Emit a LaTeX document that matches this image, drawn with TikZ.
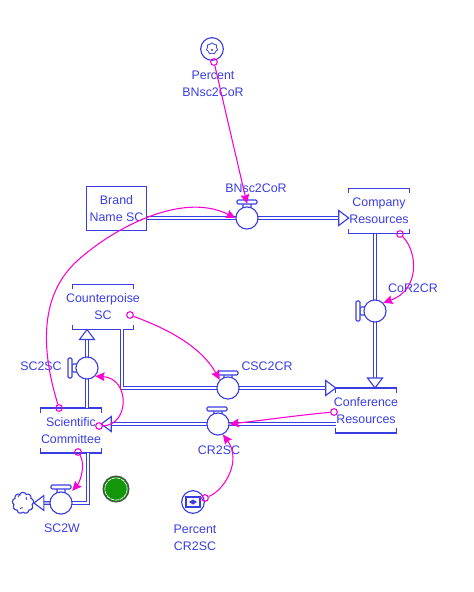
\documentclass[tikz,border=0pt]{standalone}
\usepackage{fontspec}
\setmainfont{Liberation Sans}
\usetikzlibrary{arrows.meta,shapes.symbols,calc}
\definecolor{vblue}{RGB}{58,62,226}
\definecolor{vmag}{RGB}{250,0,210}
\definecolor{vgreen}{RGB}{20,150,10}
\tikzset{
  x=0.75pt,y=-0.75pt,
  lbl/.style={text=vblue,font=\fontsize{9.3}{12.75}\selectfont,align=center,inner sep=0pt},
  stockbox/.style={lbl,minimum width=45pt,minimum height=33.4pt},
  brandbox/.style={stockbox,draw=vblue,line width=0.95pt},
  bracket/.style={draw=vblue,line width=0.95pt},
  valve/.style={circle,draw=vblue,fill=white,line width=0.85pt,minimum size=16.6pt,inner sep=0pt},
  conv/.style={circle,draw=vblue,fill=white,line width=0.85pt,minimum size=17pt,inner sep=0pt},
  flowline/.style={draw=vblue,line width=0.8pt,double=white,double distance=1.1pt},
  handle/.style={draw=vblue,fill=white,line width=0.85pt,rounded corners=0.8pt},
  conn/.style={draw=vmag,line width=0.8pt,-{Stealth[length=7pt,width=6.5pt,inset=1pt]}},
  pin/.style={circle,draw=vmag,line width=0.8pt,fill=none,minimum size=5pt,inner sep=0pt},
  flowhead/.pic={\draw[draw=vblue,fill=white,line width=0.85pt] (0,0)--(-10,-7.5)--(-10,7.5)--cycle;}
}
\begin{document}
\begin{tikzpicture}
\useasboundingbox (0,0) rectangle (474,592);
% stocks
\node[brandbox] (br) at (116.5,208.5) {Brand\\\clap{Name SC}};
\node[stockbox] (co) at (379,211) {\clap{Company}\\\clap{Resources}};
\node[stockbox] (cs) at (103,307) {\clap{Counterpoise}\\\clap{SC}};
\node[stockbox] (sc) at (71,430.5) {\clap{Scientific}\\\clap{Committee}};
\node[stockbox] (cf) at (366,410.5) {\clap{Conference}\\\clap{Resources}};
\foreach \s in {co,cs,sc,cf}{
  \draw[bracket] (\s.north west) ++(0,5) -- (\s.north west) -- (\s.north east) -- ++(0,5);
  \draw[bracket] (\s.south west) ++(0,-5) -- (\s.south west) -- (\s.south east) -- ++(0,-5);
}
% valves positions
\coordinate (vbn) at (247,218);
\coordinate (vco) at (375,311);
\coordinate (vss) at (87,368);
\coordinate (vcs) at (228,388);
\coordinate (vcr) at (218,424);
\coordinate (vsw) at (61,503);
\node[cloud,cloud puffs=9,cloud puff arc=130,aspect=1,draw=vblue,fill=white,line width=0.85pt,minimum width=16pt,minimum height=16pt,inner sep=0pt] (cl) at (23,503) {};
\draw[vblue,line width=0.6pt] (18,497) arc (180:290:2) (27,500) arc (120:220:2) (20,509) arc (200:300:2);
% flows
\draw[flowline] (br.east |- vbn) -- (vbn);
\draw[flowline,shorten >=7pt] (vbn) -- (co.west |- vbn);
\pic at (co.west |- vbn) {flowhead};
\draw[flowline] (vco |- co.south) -- (vco);
\draw[flowline,shorten >=7pt] (vco) -- (vco |- cf.north);
\pic[rotate=-90] at (vco |- cf.north) {flowhead};
\coordinate (csb) at (122,329);
\draw[flowline] (csb) -- (122,388) -- (vcs);
\draw[flowline,shorten >=7pt] (vcs) -- (cf.west |- vcs);
\pic at (cf.west |- vcs) {flowhead};
\draw[flowline] (cf.west |- vcr) -- (vcr);
\draw[flowline,shorten >=7pt] (vcr) -- (sc.east |- vcr);
\pic[rotate=180] at (sc.east |- vcr) {flowhead};
\draw[flowline] (vss |- sc.north) -- (vss);
\draw[flowline,shorten >=7pt] (vss) -- (vss |- cs.south);
\pic[rotate=90] at (vss |- cs.south) {flowhead};
\draw[flowline] (88,453) -- (88,503) -- (vsw);
\draw[flowline,shorten >=6pt] (vsw) -- (cl.east);
\pic[rotate=180] at (cl.east) {flowhead};
% valve handles and circles
\draw[handle] (243,209) rectangle (251,203);
\draw[handle] (237,200) rectangle (257,204);
\draw[handle] (224,379) rectangle (232,373);
\draw[handle] (218,371) rectangle (238,375);
\draw[handle] (214,415) rectangle (222,409);
\draw[handle] (207,407) rectangle (227,411);
\draw[handle] (57,494) rectangle (65,488);
\draw[handle] (51,485) rectangle (71,489);
\draw[handle] (366,307) rectangle (360,315);
\draw[handle] (356,301) rectangle (360,321);
\draw[handle] (78,364) rectangle (72,372);
\draw[handle] (68,358) rectangle (72,378);
\node[valve] (nbn) at (vbn) {};
\node[valve] (nco) at (vco) {};
\node[valve] (nss) at (vss) {};
\node[valve] (ncs) at (vcs) {};
\node[valve] (ncr) at (vcr) {};
\node[valve] (nsw) at (vsw) {};
% converters
\node[conv] (p1) at (212,49) {};
\node[cloud,cloud puffs=7,cloud puff arc=140,aspect=1,draw=vblue,line width=0.6pt,minimum width=8.5pt,minimum height=8.5pt,inner sep=0pt] at (212,48.5) {};
\fill[vblue] (212,50) circle (1.2);
\node[conv] (p2) at (193,502) {};
\draw[vblue,line width=0.8pt] (186,497) rectangle (200,507);
\fill[vblue] (189,502)--(193,499.5)--(197,502)--(193,504.5)--cycle;
% green indicator
\node[circle,draw=black!70,fill=vgreen,line width=0.8pt,minimum size=19.5pt,inner sep=0pt] (gr) at (116,489) {};
\draw[white,line width=0.5pt,dash pattern=on 3pt off 0.6pt] (gr) circle (11.2);
% labels
\node[lbl] (lp1) at (213,84) {Percent\\BNsc2CoR};
\node[lbl] (l1) at (256,188) {BNsc2CoR};
\node[lbl] (l2) at (413,288) {CoR2CR};
\node[lbl] (l3) at (41,366) {SC2SC};
\node[lbl] (l4) at (267,366) {CSC2CR};
\node[lbl] (l5) at (219,450) {CR2SC};
\node[lbl] (l6) at (62,528) {SC2W};
\node[lbl] (lp2) at (195,537.5) {Percent\\CR2SC};
% connectors
\coordinate (s1) at (214,62);
\coordinate (s2) at (59,408);
\coordinate (s3) at (400,234);
\coordinate (s4) at (130,315);
\coordinate (s5) at (334,412);
\coordinate (s6) at (99,426);
\coordinate (s7) at (78,452);
\coordinate (s8) at (205,498);
\foreach \c in {s1,s2,s3,s4,s5,s6,s7,s8} \node[pin] (p\c) at (\c) {};
\draw[conn] (ps1) -- ([yshift=2pt]nbn.north);
\draw[conn] (ps2) .. controls (38,340) and (44,292) .. (76,262) .. controls (108,232) and (180,190) .. (nbn.west);
\draw[conn] (ps3) .. controls (418,252) and (420,290) .. (nco.north east);
\draw[conn] (ps4) .. controls (165,328) and (200,345) .. (ncs.north west);
\draw[conn] (ps5) .. controls (300,415) and (265,420) .. (ncr.east);
\draw[conn] (ps6) .. controls (130,425) and (130,378) .. (nss.south east);
\draw[conn] (ps7) .. controls (86,465) and (80,482) .. ([shift={(3,-4)}]nsw.north east);
\draw[conn] (ps8) .. controls (225,490) and (242,460) .. (ncr.-65);
\end{tikzpicture}
\end{document}
